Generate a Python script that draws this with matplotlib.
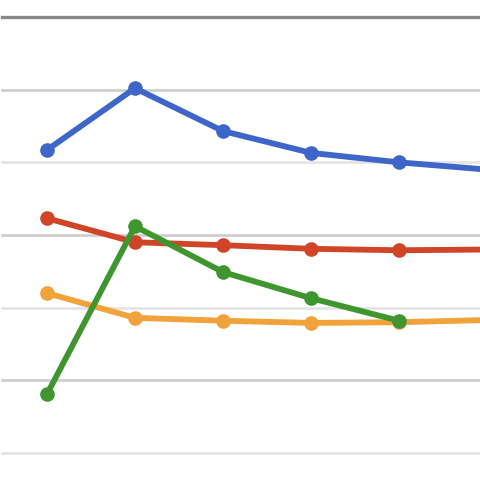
import matplotlib
matplotlib.use("Agg")
import matplotlib.pyplot as plt

x_idx = [0, 1, 2, 3, 4, 5]
blue_vals = [4.17, 5.02, 4.43, 4.13, 4.00, 3.90]
red_vals = [3.23, 2.90, 2.86, 2.81, 2.79, 2.80]
orange_vals = [2.20, 1.86, 1.82, 1.79, 1.80, 1.83]
green_x = [0, 1, 2, 3, 4]
green_vals = [0.81, 3.12, 2.49, 2.13, 1.82]
grid_levels = [0, 1, 2, 3, 4, 5]

fig = plt.figure(figsize=(4.8, 4.95), dpi=100)
ax = fig.add_axes([0, 0, 1, 1])
ax.set_xlim(-0.534, 4.92)
ax.set_ylim(-0.578, 6.234)
ax.axis("off")

# gridlines, alternating shade like the original
for g in grid_levels:
    c = "#cdcdcd" if g % 2 == 1 else "#e4e4e4"
    ax.axhline(g, xmin=0.004, color=c, lw=1.9, zorder=1)
ax.axhline(6, xmin=0.004, color="#888888", lw=2.4, zorder=1)

kw = dict(lw=4.2, marker="o", ms=9.5, solid_capstyle="round", zorder=3)
ax.plot(x_idx, blue_vals, color="#3e65c8", **kw)
ax.plot(x_idx, red_vals, color="#d04527", **kw)
ax.plot(x_idx, orange_vals, color="#f2a23b", **kw)
ax.plot(green_x, green_vals, color="#3f962f", **kw)

fig.savefig("out.png", dpi=100)
